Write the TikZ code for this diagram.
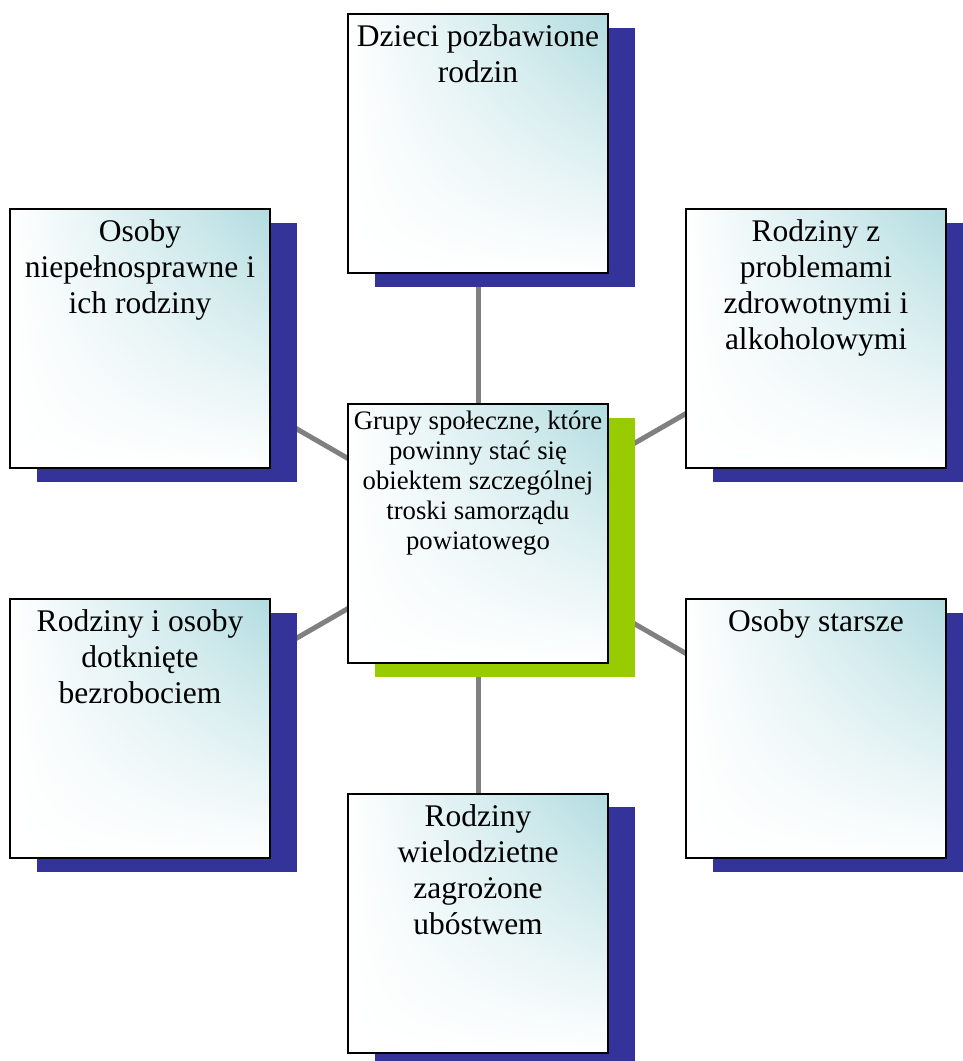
\documentclass[tikz,border=0pt]{standalone}
\usepackage{fontspec}
\setmainfont{Liberation Serif}
\usetikzlibrary{shadows,backgrounds,shadings}
\definecolor{shblue}{RGB}{51,51,153}
\definecolor{shgreen}{RGB}{153,204,0}
\definecolor{tealtop}{RGB}{178,220,224}
\definecolor{linegray}{RGB}{128,128,128}
\tikzset{
  card/.style={rectangle, draw=black, line width=2pt, minimum width=260pt,
    minimum height=259pt, inner sep=0pt, shade, upper right=tealtop,
    upper left=white, lower left=white, lower right=white},
  blueshadow/.style={general shadow={shadow xshift=27pt, shadow yshift=-13.5pt, fill=shblue}},
  greenshadow/.style={general shadow={shadow xshift=27pt, shadow yshift=-13.5pt, fill=shgreen}},
  outertext/.style={anchor=north, align=center, inner sep=0pt, font=\fontsize{31.5}{36}\selectfont},
  centertext/.style={anchor=north, align=center, inner sep=0pt, font=\fontsize{26.7}{30}\selectfont},
  link/.style={draw=linegray, line width=5pt}
}
\begin{document}
\begin{tikzpicture}[x=1pt,y=-1pt]
\useasboundingbox (0,0) rectangle (963,1061);
% boxes
\node[card, blueshadow]  (t)  at (478,143.5) {};
\node[card, blueshadow]  (lt) at (140,338.5) {};
\node[card, blueshadow]  (rt) at (816,338.5) {};
\node[card, greenshadow] (c)  at (478,533.5) {};
\node[card, blueshadow]  (lb) at (140,728.5) {};
\node[card, blueshadow]  (rb) at (816,728.5) {};
\node[card, blueshadow]  (b)  at (478,923)   {};
% texts
\node[outertext] (t-txt)  at ([yshift=-11.5pt]t.north)  {Dzieci pozbawione\\rodzin};
\node[outertext] (lt-txt) at ([yshift=-11.5pt]lt.north) {Osoby\\niepełnosprawne i\\ich rodziny};
\node[outertext] (rt-txt) at ([yshift=-11.5pt]rt.north) {Rodziny z\\problemami\\zdrowotnymi i\\alkoholowymi};
\node[centertext] (c-txt) at ([yshift=-8pt]c.north)  {Grupy społeczne, które\\powinny stać się\\obiektem szczególnej\\troski samorządu\\powiatowego};
\node[outertext] (lb-txt) at ([yshift=-11.5pt]lb.north) {Rodziny i osoby\\dotknięte\\bezrobociem};
\node[outertext] (rb-txt) at ([yshift=-11.5pt]rb.north) {Osoby starsze};
\node[outertext] (b-txt)  at ([yshift=-11.5pt]b.north)  {Rodziny\\wielodzietne\\zagrożone\\ubóstwem};
% connectors
\begin{scope}[on background layer]
\draw[link] (c.center) -- (t.center);
\draw[link] (c.center) -- (lt.center);
\draw[link] (c.center) -- (rt.center);
\draw[link] (c.center) -- (lb.center);
\draw[link] (c.center) -- (rb.center);
\draw[link] (c.center) -- (b.center);
\end{scope}
\end{tikzpicture}
\end{document}
